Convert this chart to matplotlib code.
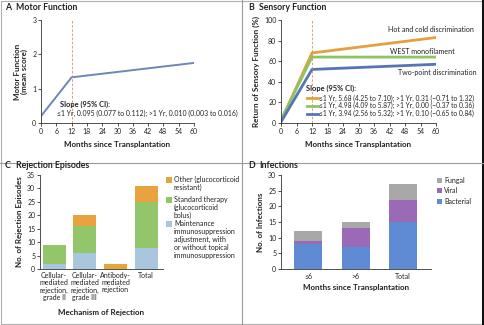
import matplotlib
matplotlib.use("Agg")
import matplotlib.pyplot as plt
import numpy as np

plt.rcParams['font.family'] = ['Lato', 'DejaVu Sans']

W, H = 484, 325

# A: motor function
motor_months = [0, 12, 60]
motor_score = [0.2, 1.33, 1.75]

# B: sensory function
sens_months = [0, 12, 60]
hot_cold = [2, 68, 83]
west_mono = [3, 64, 64]
two_point = [1, 52, 57]
sens_slopes = [
    "\u22641 Yr, 5.68 (4.25 to 7.10); >1 Yr, 0.31 (\u22120.71 to 1.32)",
    "\u22641 Yr, 4.98 (4.09 to 5.87); >1 Yr, 0.00 (\u22120.37 to 0.36)",
    "\u22641 Yr, 3.94 (2.56 to 5.32); >1 Yr, 0.10 (\u22120.65 to 0.84)",
]

# C: rejection episodes
rej_labels = ["Cellular-\nmediated\nrejection,\ngrade II",
              "Cellular-\nmediated\nrejection,\ngrade III",
              "Antibody-\nmediated\nrejection",
              "Total"]
rej_maint = [2, 6, 0, 8]
rej_standard = [7, 10, 0, 17]
rej_other = [0, 4, 2, 6]
rej_legend = ["Other (glucocorticoid\nresistant)",
              "Standard therapy\n(glucocorticoid\nbolus)",
              "Maintenance\nimmunosuppression\nadjustment, with\nor without topical\nimmunosuppression"]

# D: infections
inf_labels = ["\u22646", ">6", "Total"]
inf_bacterial = [8, 7, 15]
inf_viral = [1, 6, 7]
inf_fungal = [3, 2, 5]

ORANGE = "#E8A23E"
GREEN = "#93C56B"
LBLUE = "#AAC6DE"
LINE_BLUE = "#6C87B8"
B_ORANGE = "#E3A03F"
B_GREEN = "#8EC463"
B_BLUE = "#5675B6"
BACT = "#5E8BD4"
VIRAL = "#9B6AB6"
FUNGAL = "#A8A8A8"
DASH = "#D98B6E"
TXT = "#222222"

fig = plt.figure(figsize=(W / 100, H / 100), dpi=100)


def fx(x):
    return x / W


def fy(y):
    return 1 - y / H


def axes_px(x0, y0, x1, y1):
    return fig.add_axes([fx(x0), fy(y1), (x1 - x0) / W, (y1 - y0) / H])


def style(ax):
    for s in ("top", "right"):
        ax.spines[s].set_visible(False)
    for s in ("left", "bottom"):
        ax.spines[s].set_linewidth(0.6)
        ax.spines[s].set_color("#333333")
    ax.tick_params(length=2.2, width=0.6, labelsize=5.0, pad=1.2,
                   colors="#333333", labelcolor=TXT)


def panel_title(x, y, letter, title):
    fig.text(fx(x), fy(y), letter, fontsize=6.3, fontweight="bold",
             va="center", color=TXT)
    fig.text(fx(x + 11), fy(y), title, fontsize=6.3, fontweight="bold",
             va="center", color=TXT)


# frame and dividers
fig.add_artist(plt.Line2D([0, 1], [fy(163), fy(163)], color="#9a9a9a", lw=0.8))
fig.add_artist(plt.Line2D([fx(242), fx(242)], [0, 1], color="#9a9a9a", lw=0.8))
fig.add_artist(plt.Rectangle((fx(1), fy(324)), fx(481), 1 - fy(324) - (1 - fy(1)),
                             fill=False, ec="#b0b0b0", lw=0.8))
fig.add_artist(plt.Rectangle((fx(482), 0), fx(2), 1, color="#111111", lw=0))

# ---- A ----
ax = axes_px(41, 20, 194, 123)
style(ax)
ax.plot(motor_months, motor_score, color=LINE_BLUE, lw=1.4)
ax.axvline(12, color=DASH, lw=0.6, ls=(0, (3, 2)))
ax.set_xlim(0, 60)
ax.set_ylim(0, 3)
ax.set_xticks(np.arange(0, 61, 6))
ax.set_yticks([0, 1, 2, 3])
ax.set_xlabel("Months since Transplantation", fontsize=5.8, fontweight="bold",
              labelpad=4.5, color=TXT)
ax.set_ylabel("Motor Function\n(mean score)", fontsize=5.8, fontweight="bold",
              labelpad=3, color=TXT, linespacing=1.0)
fig.text(fx(60), fy(104), "Slope (95% CI):", fontsize=5.4,
         fontweight="bold", va="center", color=TXT)
fig.text(fx(57), fy(113),
         "\u22641 Yr, 0.095 (0.077 to 0.112); >1 Yr, 0.010 (0.003 to 0.016)",
         fontsize=4.95, va="center", color=TXT)
panel_title(5, 8, "A", "Motor Function")

# ---- B ----
ax = axes_px(281, 20, 436, 123)
style(ax)
ax.plot(sens_months, hot_cold, color=B_ORANGE, lw=2.0)
ax.plot(sens_months, west_mono, color=B_GREEN, lw=2.0)
ax.plot(sens_months, two_point, color=B_BLUE, lw=2.0)
ax.axvline(12, color=DASH, lw=0.6, ls=(0, (3, 2)))
ax.set_xlim(0, 60)
ax.set_ylim(0, 100)
ax.set_xticks(np.arange(0, 61, 6))
ax.set_yticks(np.arange(0, 101, 20))
ax.set_xlabel("Months since Transplantation", fontsize=5.8, fontweight="bold",
              labelpad=4.5, color=TXT)
ax.set_ylabel("Return of Sensory Function (%)", fontsize=5.8, fontweight="bold",
              labelpad=3, color=TXT)
fig.text(fx(474), fy(30), "Hot and cold discrimination", fontsize=5.1,
         ha="right", va="center", color=TXT)
fig.text(fx(422), fy(51), "WEST monofilament", fontsize=5.1,
         ha="center", va="center", color=TXT)
fig.text(fx(437), fy(72), "Two-point discrimination", fontsize=5.1,
         ha="center", va="center", color=TXT)
fig.text(fx(306), fy(88), "Slope (95% CI):", fontsize=5.4, fontweight="bold",
         va="center", color=TXT)
for i, (c, s) in enumerate(zip([B_ORANGE, B_GREEN, B_BLUE], sens_slopes)):
    yy = fy(98 + 7.8 * i)
    fig.add_artist(plt.Line2D([fx(307), fx(318)], [yy, yy], color=c, lw=2.0))
    fig.text(fx(319), yy, s, fontsize=4.75, va="center", color=TXT)
panel_title(248, 8, "B", "Sensory Function")

# ---- C ----
ax = axes_px(40, 175, 163, 269)
style(ax)
x = np.arange(len(rej_labels))
maint = np.array(rej_maint)
std = np.array(rej_standard)
oth = np.array(rej_other)
ax.bar(x, maint, width=0.75, color=LBLUE)
ax.bar(x, std, width=0.75, bottom=maint, color=GREEN)
ax.bar(x, oth, width=0.75, bottom=maint + std, color=ORANGE)
ax.set_xlim(-0.46, 3.55)
ax.set_ylim(0, 35)
ax.set_yticks(np.arange(0, 36, 5))
ax.set_xticks(x)
ax.set_xticklabels(rej_labels, fontsize=5.0, linespacing=1.0)
ax.tick_params(axis="x", length=0, pad=2.5)
ax.set_xlabel("Mechanism of Rejection", fontsize=5.8, fontweight="bold",
              labelpad=6, color=TXT)
ax.set_ylabel("No. of Rejection Episodes", fontsize=5.8, fontweight="bold",
              labelpad=3, color=TXT)
for c, lab, yy in zip([ORANGE, GREEN, LBLUE], rej_legend, [180, 199.5, 224]):
    fig.add_artist(plt.Rectangle((fx(166), fy(yy + 3)), fx(6), 1 - fy(6),
                                 color=c, lw=0))
    fig.text(fx(174), fy(yy - 3.8), lab, fontsize=5.0, va="top", color=TXT,
             linespacing=1.15)
panel_title(5, 166, "C", "Rejection Episodes")

# ---- D ----
ax = axes_px(281, 175, 431, 269)
style(ax)
x = np.arange(len(inf_labels))
bact = np.array(inf_bacterial)
vir = np.array(inf_viral)
fun = np.array(inf_fungal)
ax.bar(x, bact, width=0.59, color=BACT)
ax.bar(x, vir, width=0.59, bottom=bact, color=VIRAL)
ax.bar(x, fun, width=0.59, bottom=bact + vir, color=FUNGAL)
ax.set_xlim(-0.57, 2.59)
ax.set_ylim(0, 30)
ax.set_yticks(np.arange(0, 31, 5))
ax.set_xticks(x)
ax.set_xticklabels(inf_labels, fontsize=5.0)
ax.tick_params(axis="x", length=0, pad=3)
ax.set_xlabel("Months since Transplantation", fontsize=5.8, fontweight="bold",
              labelpad=3, color=TXT)
ax.set_ylabel("No. of Infections", fontsize=5.8, fontweight="bold",
              labelpad=3, color=TXT)
for c, lab, yy in zip([FUNGAL, VIRAL, BACT], ["Fungal", "Viral", "Bacterial"],
                      [180, 190.5, 201]):
    fig.add_artist(plt.Rectangle((fx(437), fy(yy + 2.5)), fx(5), 1 - fy(5),
                                 color=c, lw=0))
    fig.text(fx(444), fy(yy), lab, fontsize=5.0, va="center", color=TXT)
panel_title(248, 166, "D", "Infections")

fig.savefig("out.png", dpi=100)
